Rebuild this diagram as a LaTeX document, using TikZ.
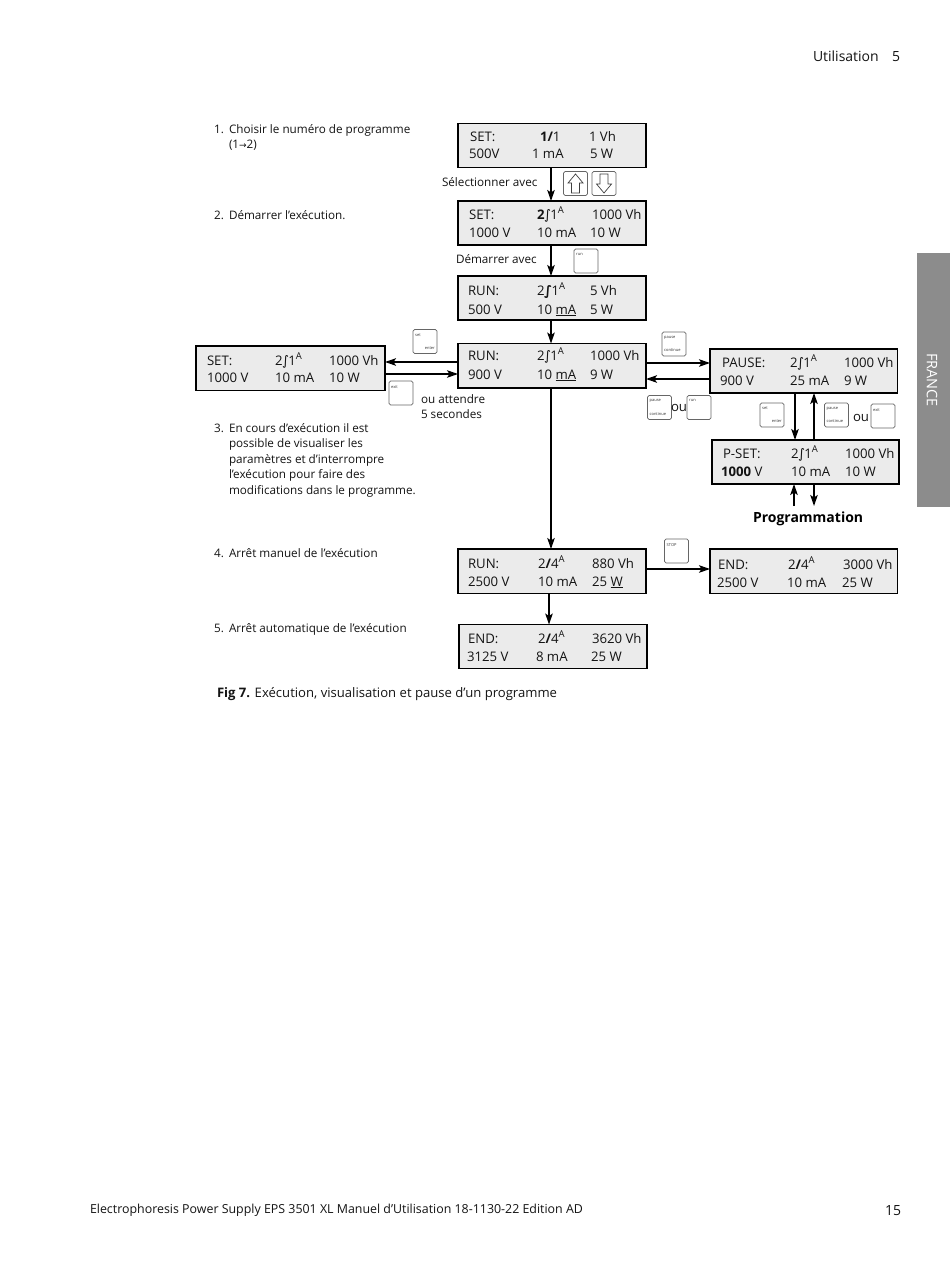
\documentclass[tikz,border=0pt]{standalone}
\usepackage{fontspec}
\setmainfont{Open Sans}[Scale=1]
\newfontfamily\djv{DejaVu Sans}
\usetikzlibrary{arrows.meta}
\newcounter{txc}
\newcommand{\tx}[4][lcdtxt]{\stepcounter{txc}\node[#1] (t\thetxc) at (#2,#3) {#4};}
\newcommand{\lcd}[5]{\node[lcdbox,minimum width={(#4-#2)*1pt},minimum height={(#5-#3)*1pt}] (#1) at ({(#2+#4)/2},{(#3+#5)/2}) {};}
\newcommand{\keybox}[3]{\node[keybox] (#1) at (#2,#3) {};}
\newcommand{\rmp}{{\djv\kern-0.5pt∫\kern-0.5pt}}
\newcommand{\Rmp}{{\djv\bfseries\kern-0.5pt∫\kern-0.5pt}}
\newcommand{\slh}{{\bfseries/}}
\newcommand{\supA}{\raisebox{0.42em}{\fontsize{9.5}{10}\selectfont A}}
\newcommand{\ul}[1]{\underline{#1}}
\tikzset{
  lcdbox/.style={draw=black,fill=black!8,line width=1.5pt,inner sep=0pt,outer sep=0pt},
  lcdtxt/.style={anchor=base west,inner sep=0pt,outer sep=0pt,font=\fontsize{13.2}{15}\selectfont,text=black!92},
  bodytxt/.style={anchor=base west,inner sep=0pt,outer sep=0pt,font=\fontsize{11.7}{14}\selectfont,text=black!92},
  numtxt/.style={anchor=base east,inner sep=0pt,outer sep=0pt,font=\fontsize{11.7}{14}\selectfont,text=black!92},
  headtxt/.style={anchor=base west,inner sep=0pt,outer sep=0pt,font=\fontsize{14}{16}\selectfont,text=black!92},
  foottxt/.style={anchor=base west,inner sep=0pt,outer sep=0pt,font=\fontsize{12.4}{14}\selectfont,text=black!92},
  captxt/.style={anchor=base west,inner sep=0pt,outer sep=0pt,font=\fontsize{13.1}{15}\selectfont,text=black!92},
  progtxt/.style={anchor=base west,inner sep=0pt,outer sep=0pt,font=\fontsize{14}{16}\selectfont\bfseries,text=black},
  keybox/.style={draw=black!60,fill=white,rounded corners=1.6pt,line width=0.6pt,minimum width=24pt,minimum height=24pt,inner sep=0pt,outer sep=0pt},
  keytl/.style={anchor=north west,inner sep=0pt,font=\fontsize{4}{4}\selectfont,text=black!80,xshift=2pt,yshift=-4pt},
  keybl/.style={anchor=south west,inner sep=0pt,font=\fontsize{4}{4}\selectfont,text=black!80,xshift=2pt,yshift=4pt},
  keybr/.style={anchor=south east,inner sep=0pt,font=\fontsize{4}{4}\selectfont,text=black!80,xshift=-2pt,yshift=4pt},
  conn/.style={draw=black,line width=1.6pt,-{Stealth[length=11pt,width=7.5pt,inset=2.5pt]}},
  hollow/.style={draw=black!75,fill=white,line width=0.7pt,line join=miter},
}
\begin{document}
\begin{tikzpicture}[x=1pt,y=-1pt]
\useasboundingbox (0,0) rectangle (950,1266);
\fill[white] (0,0) rectangle (950,1266);
% side tab
\node[fill=black!45,minimum width=33pt,minimum height=254pt,inner sep=0pt,outer sep=0pt] (tab) at (933.5,380) {};
\node[rotate=-90,text=white,font=\fontsize{14.5}{16}\selectfont] (tabt) at (932,380) {FRANCE};
% header, footer
\tx[headtxt]{813}{61.5}{Utilisation}
\tx[headtxt]{892}{61.5}{5}
\tx[foottxt]{90}{1213}{Electrophoresis Power Supply EPS 3501 XL Manuel d’Utilisation 18-1130-22 Edition AD}
\tx[headtxt]{885}{1215}{15}
% list
\tx[numtxt]{224}{133.5}{1.}
\tx[bodytxt]{229}{133.5}{Choisir le numéro de programme}
\tx[bodytxt]{229}{148.5}{(1{\djv\fontsize{9}{10}\selectfont→}2)}
\tx[numtxt]{224}{219}{2.}
\tx[bodytxt]{229}{219}{Démarrer l’exécution.}
\tx[numtxt]{224}{432}{3.}
\tx[bodytxt]{229}{432}{En cours d’exécution il est}
\tx[bodytxt]{229}{447.5}{possible de visualiser les}
\tx[bodytxt]{229}{463}{paramètres et d’interrompre}
\tx[bodytxt]{229}{478.5}{l’exécution pour faire des}
\tx[bodytxt]{229}{494}{modifications dans le programme.}
\tx[numtxt]{224}{557}{4.}
\tx[bodytxt]{229}{557}{Arrêt manuel de l’exécution}
\tx[numtxt]{224}{632}{5.}
\tx[bodytxt]{229}{632}{Arrêt automatique de l’exécution}
\tx[captxt]{217}{697}{\textbf{Fig 7.} Exécution, visualisation et pause d’un programme}
\tx[bodytxt]{442}{186}{Sélectionner avec}
\tx[bodytxt]{456}{263}{Démarrer avec}
\tx[bodytxt]{421}{403}{ou attendre}
\tx[bodytxt]{421}{418}{5 secondes}
\tx[progtxt]{753}{522}{Programmation}
% boxes
\lcd{A}{458}{123.5}{646}{167.5}
\lcd{B}{458}{201}{646}{245}
\lcd{C}{458}{276}{646}{320}
\lcd{D}{458}{343.5}{646}{388}
\lcd{E}{196}{346}{385}{390.5}
\lcd{F}{710}{349}{897.5}{393}
\lcd{G}{712}{440}{899}{484}
\lcd{H}{458}{549}{646}{593.5}
\lcd{I}{710}{549}{897.5}{593.5}
\lcd{J}{459}{624.5}{647}{668.5}
% box A
\tx{470}{141}{SET:}\tx{540}{141}{\textbf{1}\slh1}\tx{589}{141}{1 Vh}
\tx{469}{158}{500V}\tx{532}{158}{1 mA}\tx{590}{158}{5 W}
% box B
\tx{469}{219}{SET:}\tx{537}{219}{\textbf{2}\rmp1\supA}\tx{592}{219}{1000 Vh}
\tx{469}{237}{1000 V}\tx{537}{237}{10 mA}\tx{590}{237}{10 W}
% box C
\tx{468}{295}{RUN:}\tx{537}{295}{2\Rmp1\supA}\tx{590}{295}{5 Vh}
\tx{468}{314}{500 V}\tx{537}{314}{10 \ul{mA}}\tx{590}{314}{5 W}
% box D
\tx{468}{360}{RUN:}\tx{537}{360}{2\rmp1\supA}\tx{590}{360}{1000 Vh}
\tx{468}{379}{900 V}\tx{537}{379}{10 \ul{mA}}\tx{590}{379}{9 W}
% box E
\tx{207}{365}{SET:}\tx{275}{365}{2\rmp1\supA}\tx{329}{365}{1000 Vh}
\tx{207}{382}{1000 V}\tx{275}{382}{10 mA}\tx{329}{382}{10 W}
% box F
\tx{722}{367}{PAUSE:}\tx{790}{367}{2\rmp1\supA}\tx{844}{367}{1000 Vh}
\tx{720}{385}{900 V}\tx{790}{385}{25 mA}\tx{844}{385}{9 W}
% box G
\tx{723}{458}{P-SET:}\tx{791}{458}{2\rmp1\supA}\tx{845}{458}{1000 Vh}
\tx{721}{476}{\textbf{1000} V}\tx{791}{476}{10 mA}\tx{845}{476}{10 W}
% box H
\tx{468}{568}{RUN:}\tx{538}{568}{2\slh4\supA}\tx{592}{568}{880 Vh}
\tx{468}{586}{2500 V}\tx{538}{586}{10 mA}\tx{592}{586}{25 \ul{W}}
% box I
\tx{718}{569}{END:}\tx{788}{569}{2\slh4\supA}\tx{843}{569}{3000 Vh}
\tx{717}{587}{2500 V}\tx{787}{587}{10 mA}\tx{842}{587}{25 W}
% box J
\tx{468}{643}{END:}\tx{538}{643}{2\slh4\supA}\tx{592}{643}{3620 Vh}
\tx{467}{661}{3125 V}\tx{536}{661}{8 mA}\tx{591}{661}{25 W}
% keys
\keybox{kup}{575.5}{183.5}
\keybox{kdn}{604}{183.5}
\draw[hollow] (575.5,174) -- (583,183) -- (579.5,183) -- (579.5,193) -- (571.5,193) -- (571.5,183) -- (568,183) -- cycle;
\draw[hollow] (604,193) -- (611.5,184) -- (608,184) -- (608,174) -- (600,174) -- (600,184) -- (596.5,184) -- cycle;
\keybox{krun}{586}{261}
\node[keytl] (l1) at (krun.north west) {run};
\keybox{kset}{425}{341.5}
\node[keytl] (l2) at (kset.north west) {set};
\node[keybr] (l3) at (kset.south east) {enter};
\keybox{kexit}{401}{393}
\node[keytl] (l4) at (kexit.north west) {exit};
\keybox{kpc}{674}{344}
\node[keytl] (l5) at (kpc.north west) {pause};
\node[keybl] (l6) at (kpc.south west) {continue};
\keybox{kpcb}{659.5}{407.5}
\node[keytl] (l7) at (kpcb.north west) {pause};
\node[keybl] (l8) at (kpcb.south west) {continue};
\tx{671}{411}{ou}
\keybox{krunb}{699}{407.5}
\node[keytl] (l9) at (krunb.north west) {run};
\keybox{ksetb}{772}{415}
\node[keytl] (l10) at (ksetb.north west) {set};
\node[keybr] (l11) at (ksetb.south east) {enter};
\keybox{kpcc}{836.5}{415}
\node[keytl] (l12) at (kpcc.north west) {pause};
\node[keybl] (l13) at (kpcc.south west) {continue};
\tx{853}{421}{ou}
\keybox{kexitb}{883}{416}
\node[keytl] (l14) at (kexitb.north west) {exit};
\keybox{kstop}{676.5}{551}
\node[keytl] (l15) at (kstop.north west) {STOP};
% connectors
\coordinate (pu) at (794,506);
\coordinate (pd) at (814,506);
\draw[conn] (A.south -| 551,0) -- (B.north -| 551,0);
\draw[conn] (B.south -| 551,0) -- (C.north -| 551,0);
\draw[conn] (C.south -| 551,0) -- (D.north -| 551,0);
\draw[conn] (D.west |- 0,362) -- (E.east |- 0,362);
\draw[conn] (E.east |- 0,374) -- (D.west |- 0,374);
\draw[conn] (D.east |- 0,363) -- (F.west |- 0,363);
\draw[conn] (F.west |- 0,379) -- (D.east |- 0,379);
\draw[conn] (F.south -| 795,0) -- (G.north -| 795,0);
\draw[conn] (G.north -| 814,0) -- (F.south -| 814,0);
\draw[conn] (pu) -- (G.south -| pu);
\draw[conn] (G.south -| pd) -- (pd);
\draw[conn] (D.south -| 551,0) -- (H.north -| 551,0);
\draw[conn] (H.south -| 549,0) -- (J.north -| 549,0);
\draw[conn] (H.east |- 0,569) -- (I.west |- 0,569);
\end{tikzpicture}
\end{document}
